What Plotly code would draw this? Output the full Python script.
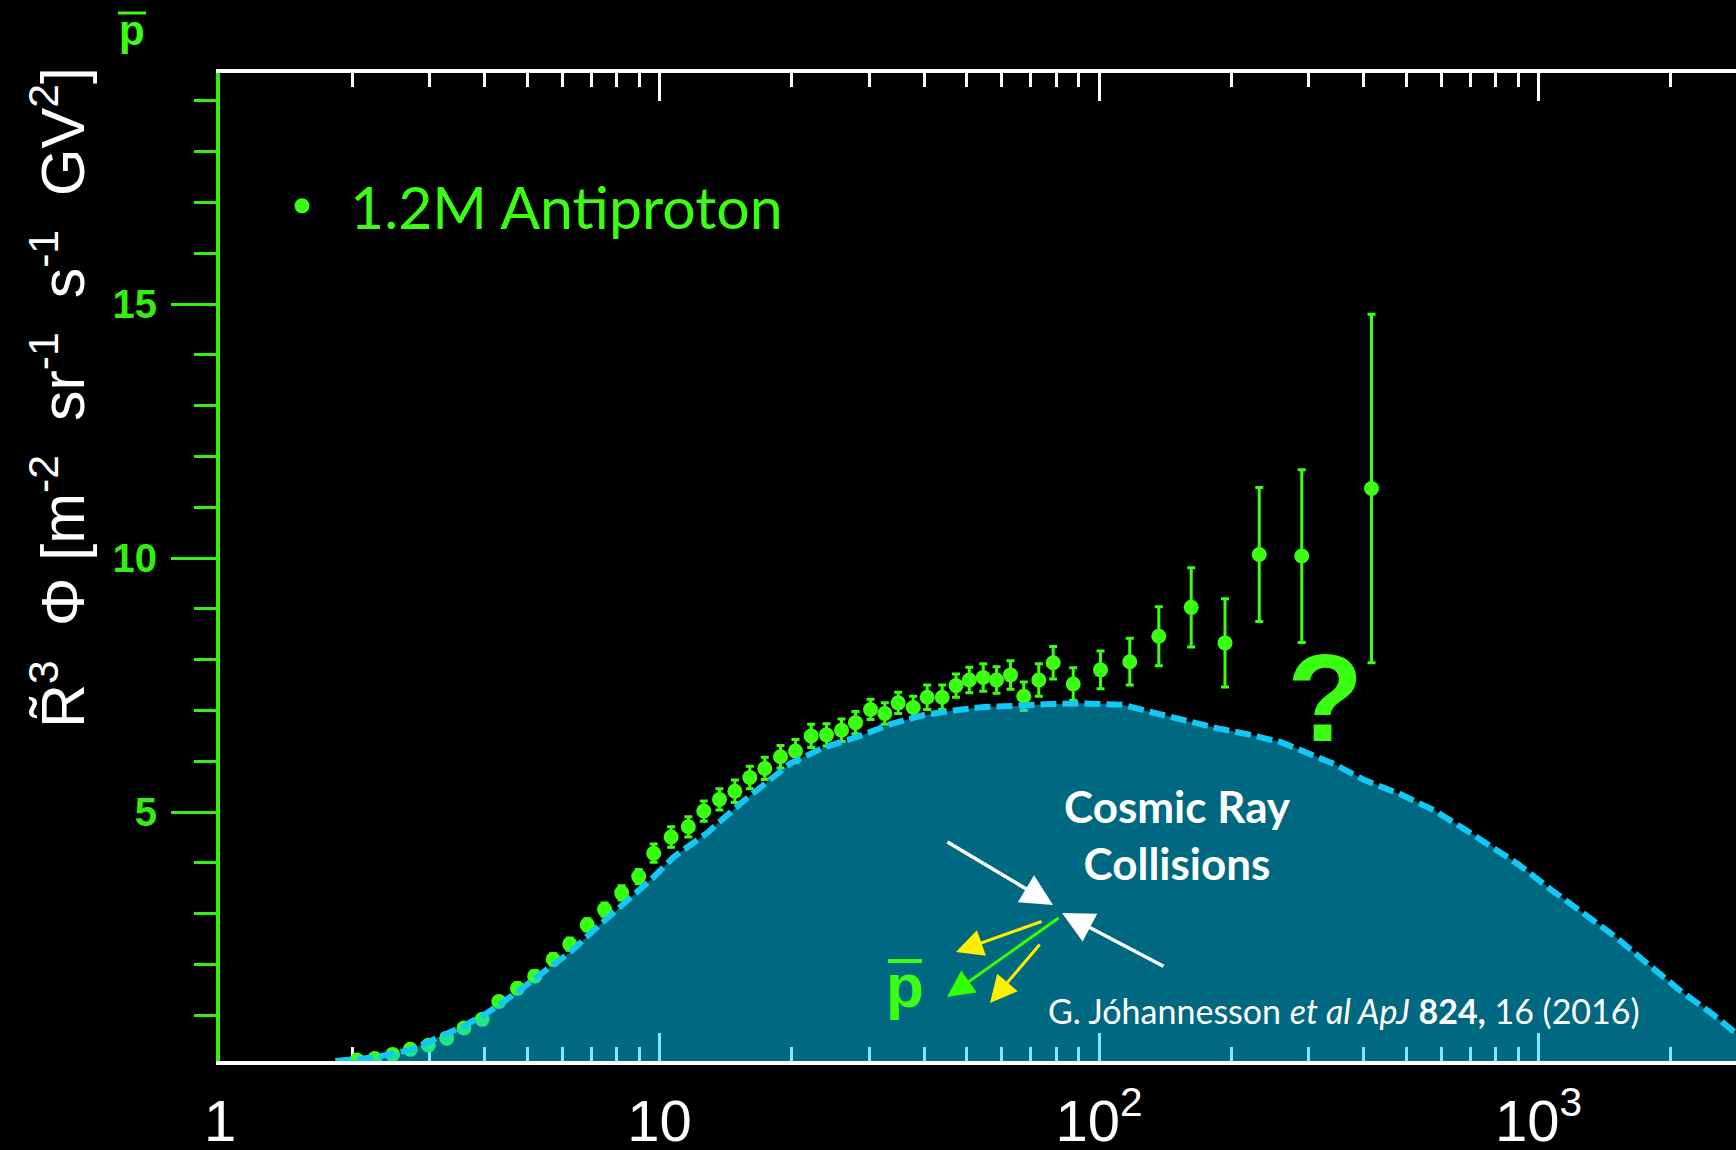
import plotly.graph_objects as go

# Antiproton spectrum: rigidity (GV) and R^3-weighted flux [m^-2 sr^-1 s^-1 GV^2]
rigidity_gv = [2.05, 2.25, 2.47, 2.71, 2.98, 3.28, 3.59, 3.95, 4.31, 4.75,
               5.20, 5.73, 6.25, 6.85, 7.50, 8.20, 8.97, 9.70, 10.63, 11.63,
               12.61, 13.69, 14.84, 16.05, 17.36, 18.85, 20.39, 22.14, 23.99, 25.95,
               27.92, 30.21, 32.55, 34.92, 37.78, 40.65, 43.98, 47.28, 50.69, 54.52,
               58.46, 62.89, 67.44, 72.95, 78.65, 87.35, 100.8, 117.5, 136.8, 162.1,
               193.5, 231.5, 289.3, 416.9]
flux_r3 = [0.12, 0.15, 0.23, 0.33, 0.41, 0.55, 0.75, 0.92, 1.27, 1.53,
           1.77, 2.10, 2.40, 2.78, 3.08, 3.41, 3.73, 4.19, 4.51, 4.71,
           5.02, 5.25, 5.41, 5.68, 5.86, 6.09, 6.20, 6.50, 6.52, 6.61,
           6.76, 7.02, 6.94, 7.15, 7.06, 7.26, 7.26, 7.49, 7.60, 7.65,
           7.60, 7.70, 7.28, 7.60, 7.94, 7.52, 7.80, 7.96, 8.46, 9.03,
           8.33, 10.07, 10.04, 11.37]
flux_err = [0.05, 0.05, 0.05, 0.06, 0.06, 0.07, 0.08, 0.08, 0.09, 0.10,
            0.10, 0.11, 0.12, 0.12, 0.13, 0.14, 0.14, 0.18, 0.20, 0.20,
            0.20, 0.21, 0.22, 0.22, 0.22, 0.22, 0.23, 0.23, 0.22, 0.22,
            0.22, 0.20, 0.21, 0.21, 0.22, 0.24, 0.24, 0.23, 0.25, 0.27,
            0.26, 0.28, 0.28, 0.32, 0.32, 0.32, 0.37, 0.46, 0.58, 0.78,
            0.87, 1.32, 1.70, 3.43]

# Secondary antiprotons from cosmic-ray collisions (model curve)
model_rigidity_gv = [1.83, 2.24, 2.71, 3.12, 3.59, 4.06, 4.75, 5.46, 6.28, 7.22,
                     8.30, 9.54, 10.78, 12.84, 15.29, 18.2, 19.86, 23.65, 28.18, 33.54,
                     39.94, 47.59, 54.7, 65.16, 77.57, 92.35, 113.9, 131.0, 155.9, 185.8,
                     221.2, 258.8, 339.9, 401.9, 487.9, 576.9, 682.3, 785.8, 903.8, 1069,
                     1264, 1494, 1767, 2090, 2472, 2822, 3000]
model_flux_r3 = [0.10, 0.17, 0.32, 0.55, 0.79, 1.05, 1.46, 1.86, 2.25, 2.74,
                 3.20, 3.66, 4.12, 4.59, 5.17, 5.70, 5.96, 6.27, 6.48, 6.73,
                 6.91, 7.01, 7.07, 7.09, 7.13, 7.14, 7.11, 6.97, 6.81, 6.65,
                 6.52, 6.38, 5.96, 5.63, 5.34, 5.04, 4.65, 4.32, 3.96, 3.47,
                 3.01, 2.55, 2.02, 1.50, 1.04, 0.64, 0.50]

x_tick_vals = [1, 10, 100, 1000]
x_tick_text = ["1", "10", "10<sup>2</sup>", "10<sup>3</sup>"]
x_minor_vals = [m * d for d in (1, 10, 100, 1000) for m in range(2, 10)]
y_tick_vals = [5, 10, 15]
y_tick_text = ["5", "10", "15"]

W, H = 1736, 1150
ML, MR, MT, MB = 220, 0, 73, 89
DECADE_PX = 439.5
PX_PER_UNIT = 50.8

GREEN = "#3BFF12"
AXIS_GREEN = "#33EE10"
CYAN = "#14C8F5"
FILL = "rgba(0,208,255,0.5)"

plot_w = W - ML - MR
plot_h = H - MT - MB


def px_x(px):
    return (px - ML) / plot_w


def px_y(py):
    return (H - MB - py) / plot_h


fig = go.Figure()

fig.add_trace(go.Scatter(
    x=rigidity_gv, y=flux_r3,
    mode="markers",
    name="1.2M Antiproton",
    marker=dict(color=GREEN, size=15),
    error_y=dict(type="data", array=flux_err, color=GREEN, thickness=3, width=4),
    showlegend=True,
))

fig.add_trace(go.Scatter(
    x=model_rigidity_gv, y=model_flux_r3,
    mode="lines", fill="tozeroy", fillcolor=FILL,
    line=dict(width=0), showlegend=False, hoverinfo="skip",
))

fig.add_trace(go.Scatter(
    x=model_rigidity_gv, y=model_flux_r3,
    mode="lines",
    line=dict(color=CYAN, width=6, dash="16px,6px"),
    showlegend=False,
))

y_bottom = 0.1
y_top = y_bottom + plot_h / PX_PER_UNIT

fig.update_xaxes(
    type="log",
    range=[0, plot_w / DECADE_PX],
    showline=True, linecolor="white", linewidth=4, mirror="ticks",
    ticks="inside", ticklen=28, tickwidth=3, tickcolor="white",
    tickmode="array", tickvals=x_tick_vals, ticktext=x_tick_text,
    tickfont=dict(family="Liberation Sans", size=58, color="white"),
    ticklabelstandoff=6,
    minor=dict(tickmode="array", tickvals=x_minor_vals, ticks="inside",
               ticklen=14, tickwidth=3, tickcolor="white"),
    showgrid=False, zeroline=False, layer="below traces",
)

fig.update_yaxes(
    range=[y_bottom, y_top],
    showline=True, linecolor=AXIS_GREEN, linewidth=4, mirror=False,
    ticks="outside", ticklen=45, tickwidth=3, tickcolor=AXIS_GREEN,
    tickmode="array", tickvals=y_tick_vals, ticktext=y_tick_text,
    tickfont=dict(family="Liberation Sans", size=40, color=AXIS_GREEN, weight="bold"),
    ticklabelstandoff=6,
    minor=dict(dtick=1, tick0=0, ticks="outside", ticklen=22, tickwidth=3,
               tickcolor=AXIS_GREEN),
    showgrid=False, zeroline=False,
)

NB = "\u00a0"
y_title = ("R\u0303<sup>3</sup>" + NB * 2 + "\u03a6" + NB + "[m<sup>-2</sup>" + NB * 2 +
           "sr<sup>-1</sup>" + NB * 2 + "s<sup>-1</sup>" + NB * 2 + "GV<sup>2</sup>]")

annotations = [
    dict(text=y_title, x=px_x(58), y=px_y(398), xref="paper", yref="paper",
         textangle=-90, showarrow=False, xanchor="center", yanchor="middle",
         font=dict(family="Liberation Sans", size=61, color="white")),
    dict(text="<b>p</b>", x=px_x(132), y=px_y(30), xref="paper", yref="paper",
         showarrow=False, xanchor="center", yanchor="middle",
         font=dict(family="Liberation Sans", size=42, color=GREEN)),
    dict(text="<b>?</b>", x=px_x(1325), y=px_y(697), xref="paper", yref="paper",
         showarrow=False, xanchor="center", yanchor="middle",
         font=dict(family="Liberation Sans", size=125, color=GREEN)),
    dict(text="<b>Cosmic Ray</b><br><b>Collisions</b>", x=px_x(1177), y=px_y(834),
         xref="paper", yref="paper", showarrow=False, xanchor="center", yanchor="middle",
         align="center", font=dict(family="Lato", size=44, color="white")),
    dict(text="G. J\u00f3hannesson <i>et al ApJ</i> <b>824,</b> 16 (2016)",
         x=px_x(1344), y=px_y(1010), xref="paper", yref="paper", showarrow=False,
         xanchor="center", yanchor="middle",
         font=dict(family="Lato", size=34, color="white")),
    dict(text="<b>p</b>", x=px_x(905), y=px_y(985), xref="paper", yref="paper",
         showarrow=False, xanchor="center", yanchor="middle",
         font=dict(family="Liberation Sans", size=62, color=GREEN)),
]

# Collision sketch: incoming cosmic rays and outgoing particles (tip, tail in px)
arrows = [
    ((1053, 905), (946, 841), "white", 3.5, 1.8),
    ((1062, 913), (1165, 967), "white", 3.5, 1.8),
    ((956, 952), (1043, 921), "#FFEE00", 3, 1.8),
    ((947, 997), (1060, 917), "#33FF00", 3, 1.8),
    ((990, 1003), (1041, 943), "#FFEE00", 3, 1.8),
]
for (tip, tail, color, width, size) in arrows:
    annotations.append(dict(
        text="", x=px_x(tip[0]), y=px_y(tip[1]), xref="paper", yref="paper",
        ax=tail[0] - tip[0], ay=tail[1] - tip[1], showarrow=True,
        arrowhead=2, arrowsize=size, arrowwidth=width, arrowcolor=color,
    ))

shapes = [
    dict(type="line", xref="paper", yref="paper", x0=px_x(118), x1=px_x(146),
         y0=px_y(13), y1=px_y(13), line=dict(color=GREEN, width=3)),
    dict(type="line", xref="paper", yref="paper", x0=px_x(888), x1=px_x(922),
         y0=px_y(961), y1=px_y(961), line=dict(color=GREEN, width=4)),
]

fig.update_layout(
    width=W, height=H,
    margin=dict(l=ML, r=MR, t=MT, b=MB, autoexpand=False),
    paper_bgcolor="black", plot_bgcolor="black",
    showlegend=True,
    legend=dict(x=254 / W, y=1 - 206 / H, xref="container", yref="container",
                xanchor="left", yanchor="middle", bgcolor="rgba(0,0,0,0)",
                itemwidth=86,
                font=dict(family="Lato", size=59, color=GREEN)),
    annotations=annotations,
    shapes=shapes,
)

fig.write_html("out.html")
